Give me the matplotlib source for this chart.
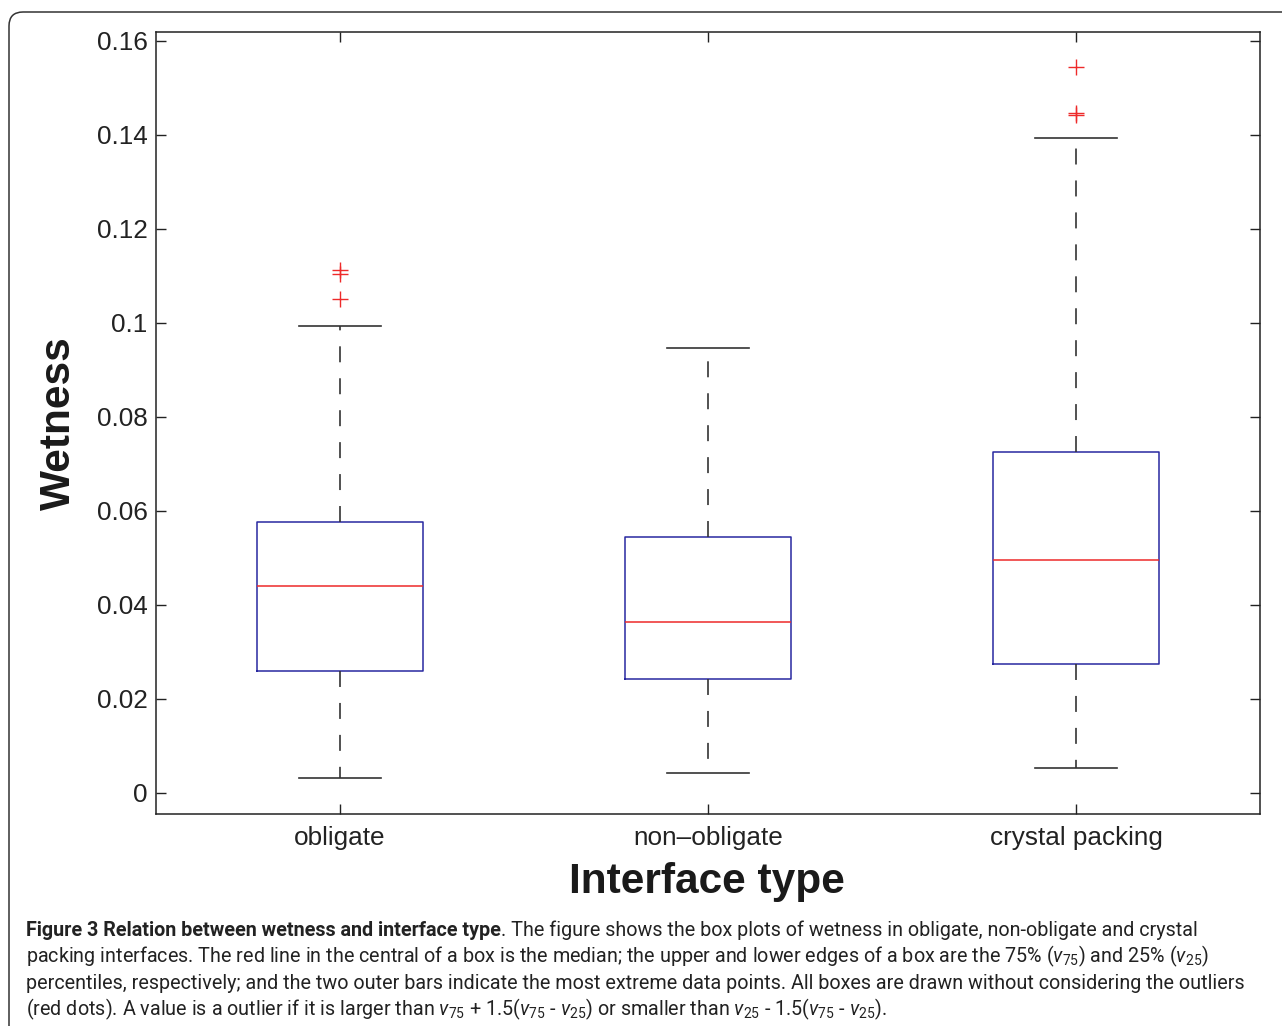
import matplotlib
matplotlib.use("Agg")
import matplotlib.pyplot as plt
import matplotlib.patches as mpatches
from matplotlib.transforms import IdentityTransform

# wetness summary per interface type
categories = ["obligate", "non\u2013obligate", "crystal packing"]
whisker_low = [0.0032, 0.0043, 0.0053]
q1 = [0.0260, 0.0243, 0.0275]
medians = [0.0440, 0.0364, 0.0496]
q3 = [0.0577, 0.0545, 0.0726]
whisker_high = [0.0994, 0.0947, 0.1394]
outliers = [[0.1113, 0.1104, 0.1051], [], [0.1545, 0.1447, 0.1443]]
yticks = [0, 0.02, 0.04, 0.06, 0.08, 0.1, 0.12, 0.14, 0.16]
ytick_labels = ["0", "0.02", "0.04", "0.06", "0.08", "0.1", "0.12", "0.14", "0.16"]

caption_bold = "Figure 3 Relation between wetness and interface type"
caption_lines = [
    ". The figure shows the box plots of wetness in obligate, non-obligate and crystal",
    r"packing interfaces. The red line in the central of a box is the median; the upper and lower edges of a box are the 75% ($v_{75}$) and 25% ($v_{25}$)",
    "percentiles, respectively; and the two outer bars indicate the most extreme data points. All boxes are drawn without considering the outliers",
    r"(red dots). A value is a outlier if it is larger than $v_{75}$ + 1.5($v_{75}$ - $v_{25}$) or smaller than $v_{25}$ - 1.5($v_{75}$ - $v_{25}$).",
]
# right end (px) of caption lines 2-4
caption_ends = [1222, 1242, 890]

CAP_FONT = "Roboto"


def main():
    plt.rcParams["font.family"] = ["Liberation Sans", "DejaVu Sans"]
    plt.rcParams["lines.scale_dashes"] = False
    plt.rcParams["mathtext.fontset"] = "custom"
    plt.rcParams["mathtext.rm"] = CAP_FONT
    plt.rcParams["mathtext.it"] = CAP_FONT + ":italic"

    W, H = 1282, 1026
    fig = plt.figure(figsize=(W / 100, H / 100), dpi=100)
    ax = fig.add_axes([156 / W, 1 - 814 / H, (1260 - 156) / W, (814 - 32) / H])

    stats = []
    for i, name in enumerate(categories):
        stats.append(dict(label=name, whislo=whisker_low[i], q1=q1[i], med=medians[i],
                          q3=q3[i], whishi=whisker_high[i], fliers=outliers[i]))

    ax.bxp(stats, positions=[1, 2, 3], widths=0.45,
           boxprops=dict(color="#2828a0", lw=1.1),
           medianprops=dict(color="#ee2a2a", lw=1.1),
           whiskerprops=dict(color="#333333", lw=1.2, ls=(0, (11.5, 11.5))),
           capprops=dict(color="#333333", lw=1.2),
           flierprops=dict(marker="+", markersize=11, markeredgecolor="#ee2a2a",
                           markeredgewidth=1.0, linestyle="none"))

    ax.set_xlim(0.5, 3.5)
    ax.set_ylim(-0.00447, 0.1619)
    ax.set_yticks(yticks)
    ax.set_yticklabels(ytick_labels)
    ax.set_xticks([1, 2, 3])
    ax.set_xticklabels(categories)
    ax.tick_params(direction="in", length=7, width=1.0, top=True, right=True,
                   labelsize=18.8, colors="#222222")
    ax.tick_params(axis="x", pad=9)
    ax.tick_params(axis="y", pad=6)
    for s in ax.spines.values():
        s.set_linewidth(1.1)
        s.set_color("#222222")

    fig.text(59 / W, 1 - 423 / H, "Wetness", rotation=90, ha="center", va="center",
             fontsize=30.5, fontweight="bold", color="#1a1a1a")
    fig.text(707 / W, 1 - 893 / H, "Interface type", ha="center", va="baseline",
             fontsize=30.5, fontweight="bold", color="#1a1a1a")

    # rounded frame around the whole figure panel
    frame = mpatches.FancyBboxPatch((9, -30), 1400, H - 12 + 30,
                                    boxstyle="round,pad=0,rounding_size=14",
                                    transform=IdentityTransform(), fill=False,
                                    edgecolor="#333333", lw=1.1)
    fig.add_artist(frame)

    # caption: one font size, shrunk until lines 2-4 end where they should
    y0 = 1 - 936 / H
    step = 26.3 / H
    size = 12.0
    txt = dict(va="baseline", family=CAP_FONT, color="#222222")
    head = fig.text(26 / W, y0, caption_bold, fontweight="bold", fontsize=size, **txt)
    rest = fig.text(0, y0, caption_lines[0], fontsize=size, **txt)
    others = []
    for k, line in enumerate(caption_lines[1:], start=1):
        others.append(fig.text(26 / W, y0 - k * step, line, fontsize=size, **txt))

    r = fig.canvas.get_renderer()
    scale = min((end - 26) / t.get_window_extent(r).width
                for t, end in zip(others, caption_ends))
    size *= scale
    for t in [head, rest] + others:
        t.set_fontsize(size)
    rest.set_x(head.get_window_extent(r).x1 / W)

    fig.savefig("out.png", dpi=100)


if __name__ == "__main__":
    main()
